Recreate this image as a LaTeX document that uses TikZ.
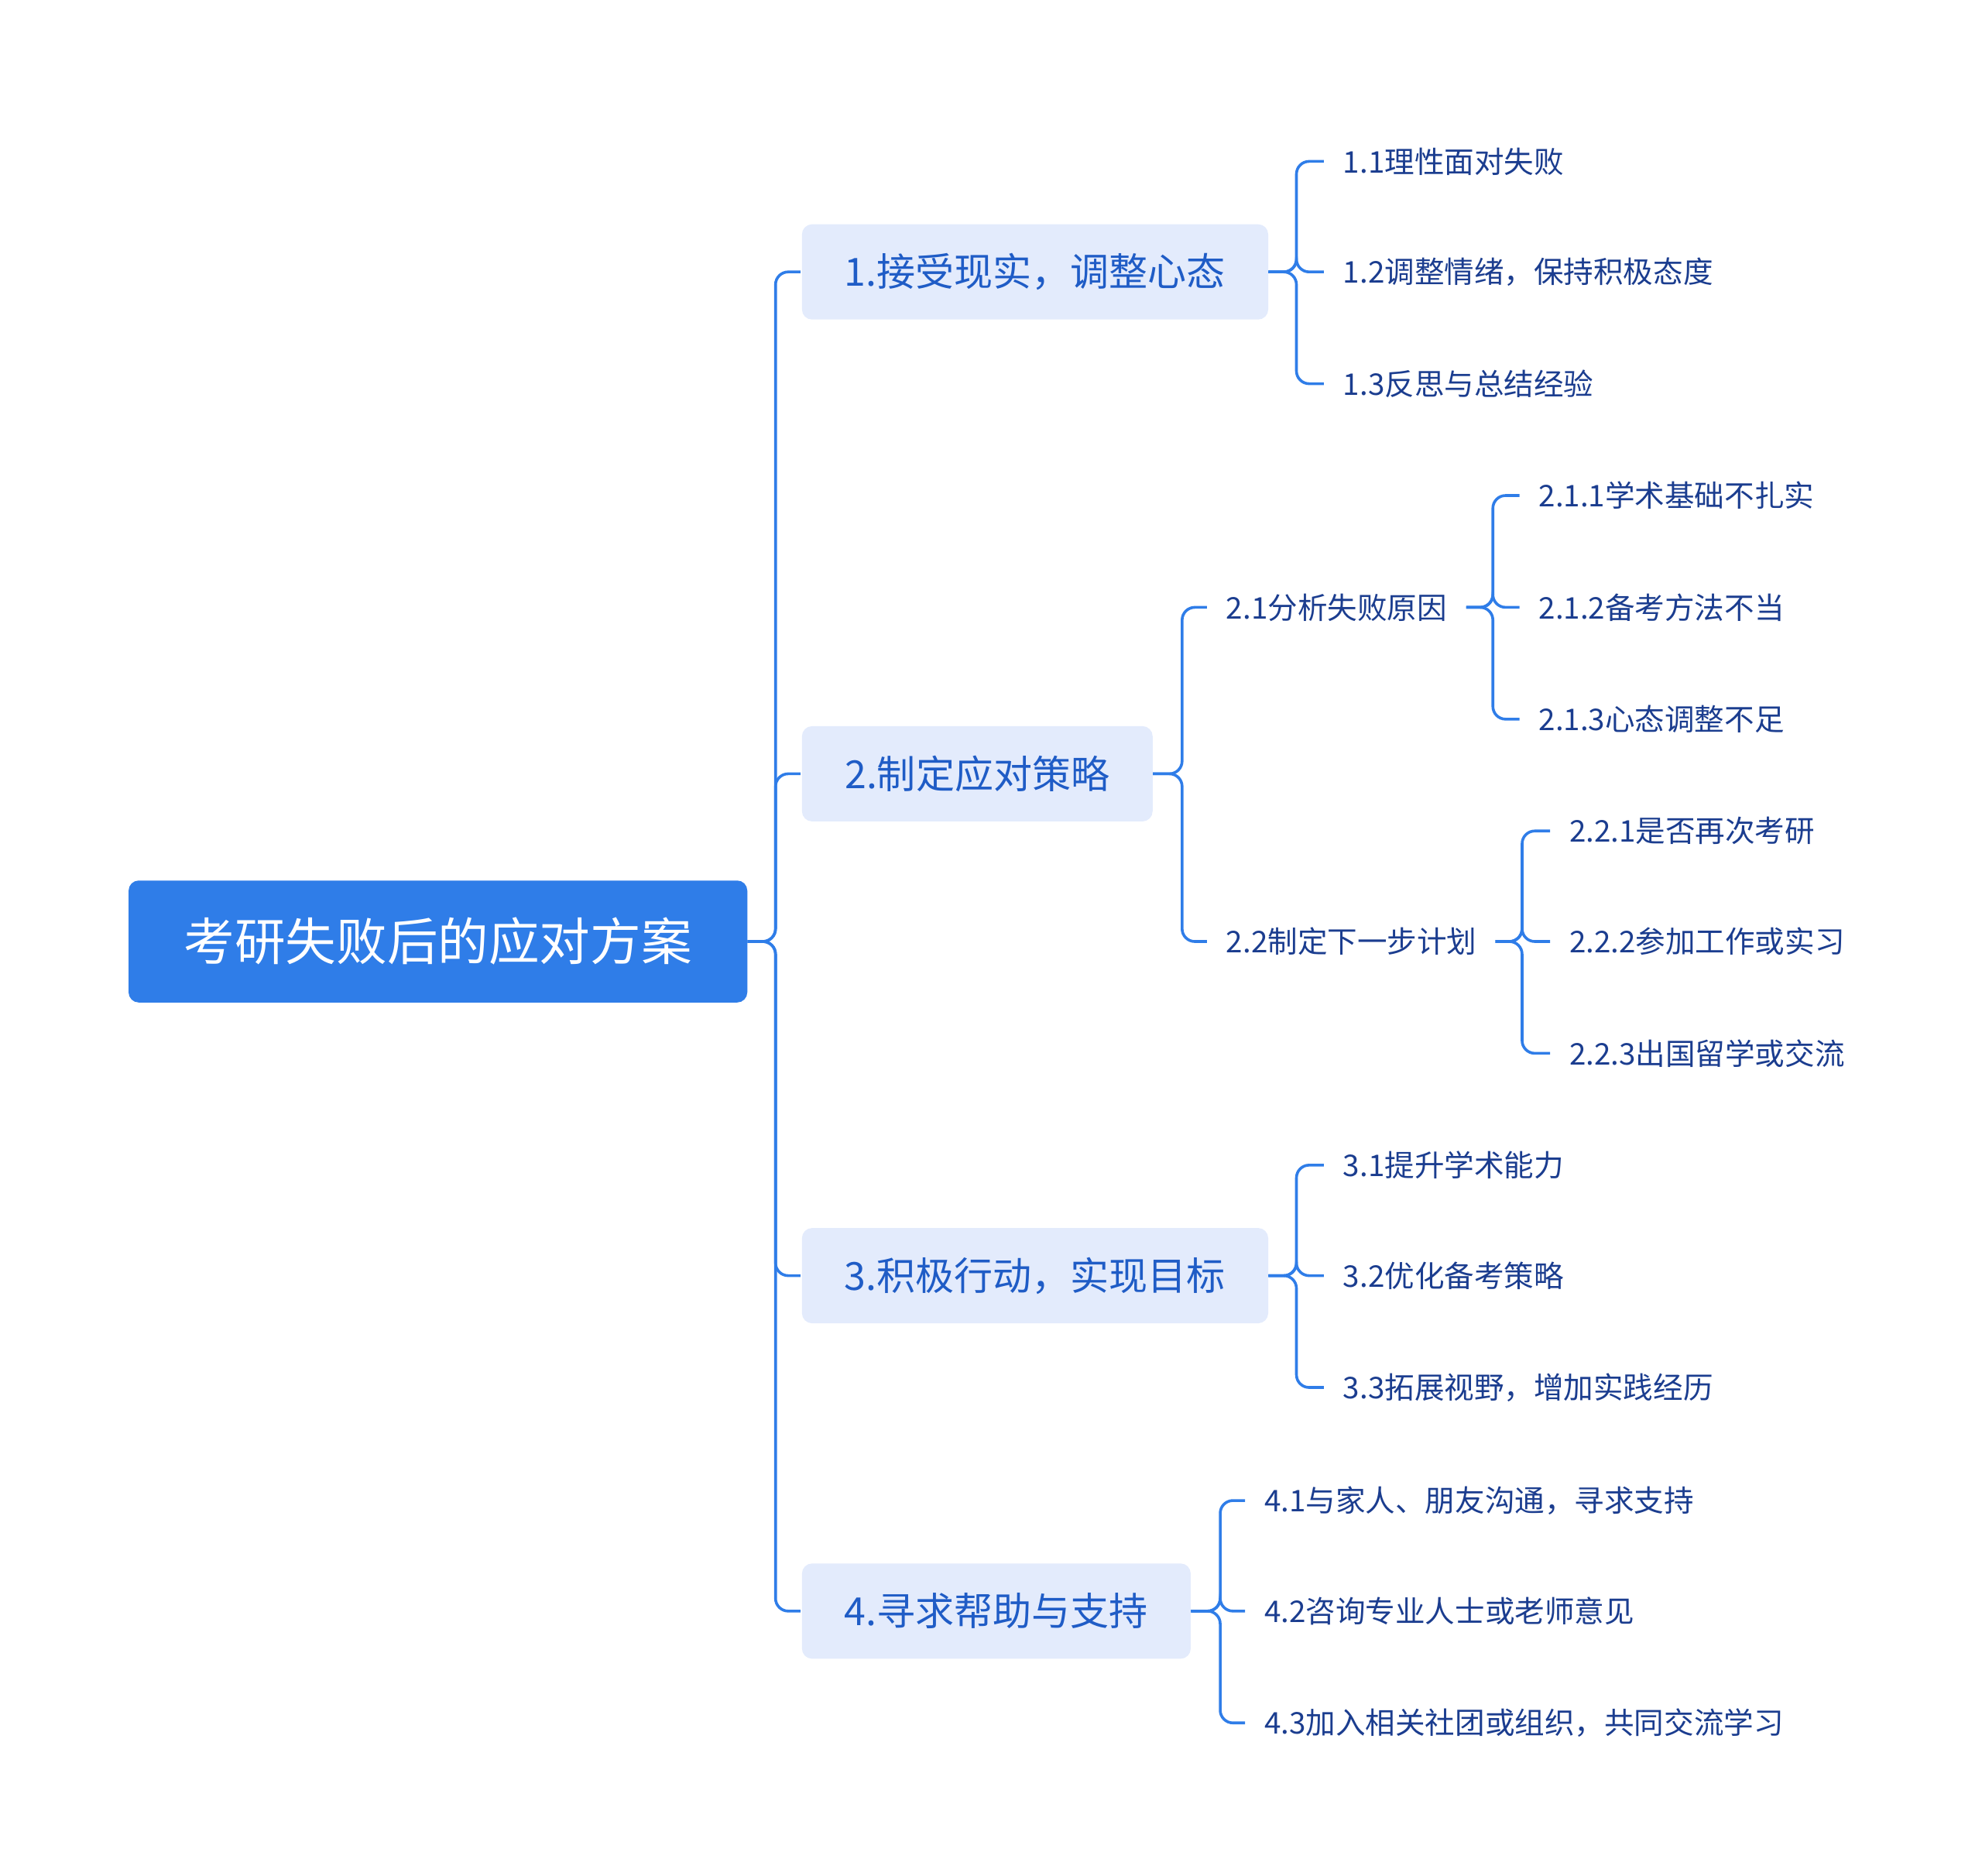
\documentclass[tikz,border=0pt]{standalone}
\usepackage{fontspec}
\setmainfont{Noto Sans CJK SC}
\definecolor{mainblue}{HTML}{2F7DE8}
\definecolor{lightblue}{HTML}{E3EBFC}
\definecolor{topictext}{HTML}{1F5CC6}
\definecolor{leaftext}{HTML}{1B3D8F}
\begin{document}
\begin{tikzpicture}[
x=1pt,y=-1pt,
root/.style={rectangle,rounded corners=8pt,fill=mainblue,text=white,font=\fontsize{40}{44}\selectfont,minimum width=487pt,minimum height=96pt,anchor=west},
topic/.style={rectangle,rounded corners=8pt,fill=lightblue,text=topictext,font=\fontsize{30.5}{34}\selectfont,minimum height=75pt,anchor=west},
leaf/.style={inner sep=0pt,anchor=west,text=leaftext,font=\fontsize{23.5}{27}\selectfont},
edge/.style={draw=mainblue,line width=2.2pt,rounded corners=10pt},
]
\useasboundingbox (0,0) rectangle (1560,1476);

% Root and main topics
\node[root] (root) at (101,741) {考研失败后的应对方案};
\node[topic,minimum width=367pt] (t1) at (631,214) {1.接受现实，调整心态};
\node[topic,minimum width=276pt] (t2) at (631,609) {2.制定应对策略};
\node[topic,minimum width=367pt] (t3) at (631,1004) {3.积极行动，实现目标};
\node[topic,minimum width=306pt] (t4) at (631,1268) {4.寻求帮助与支持};

% Leaves
\node[leaf] (l11) at (1057,127) {1.1理性面对失败};
\node[leaf] (l12) at (1057,214) {1.2调整情绪，保持积极态度};
\node[leaf] (l13) at (1057,302) {1.3反思与总结经验};
\node[leaf] (l21) at (965,478) {2.1分析失败原因};
\node[leaf] (l22) at (965,741) {2.2制定下一步计划};
\node[leaf] (l211) at (1211,390) {2.1.1学术基础不扎实};
\node[leaf] (l212) at (1211,478) {2.1.2备考方法不当};
\node[leaf] (l213) at (1211,566) {2.1.3心态调整不足};
\node[leaf] (l221) at (1235,654) {2.2.1是否再次考研};
\node[leaf] (l222) at (1235,741) {2.2.2参加工作或实习};
\node[leaf] (l223) at (1235,829) {2.2.3出国留学或交流};
\node[leaf] (l31) at (1057,917) {3.1提升学术能力};
\node[leaf] (l32) at (1057,1004) {3.2优化备考策略};
\node[leaf] (l33) at (1057,1092) {3.3拓展视野，增加实践经历};
\node[leaf] (l41) at (995,1181) {4.1与家人、朋友沟通，寻求支持};
\node[leaf] (l42) at (995,1268) {4.2咨询专业人士或老师意见};
\node[leaf] (l43) at (995,1356) {4.3加入相关社团或组织，共同交流学习};

% Connectors
\foreach \c in {t1,t2,t3,t4}
  \draw[edge] (root.east) -- ++(22,0) |- ([xshift=-1pt]\c.west);
\foreach \p/\c in {t1/l11,t1/l12,t1/l13,t3/l31,t3/l32,t3/l33}
  \draw[edge] (\p.east) -- ++(22,0) |- ([xshift=-15pt]\c.west);
\foreach \c in {l21,l22}
  \draw[edge] (t2.east) -- ++(23,0) |- ([xshift=-15pt]\c.west);
\foreach \c in {l41,l42,l43}
  \draw[edge] (t4.east) -- ++(23,0) |- ([xshift=-15pt]\c.west);
\foreach \c in {l211,l212,l213}
  \draw[edge] (1154,478) -- ++(21,0) |- ([xshift=-15pt]\c.west);
\foreach \c in {l221,l222,l223}
  \draw[edge] (1177,741) -- ++(21,0) |- ([xshift=-15pt]\c.west);
\end{tikzpicture}
\end{document}
